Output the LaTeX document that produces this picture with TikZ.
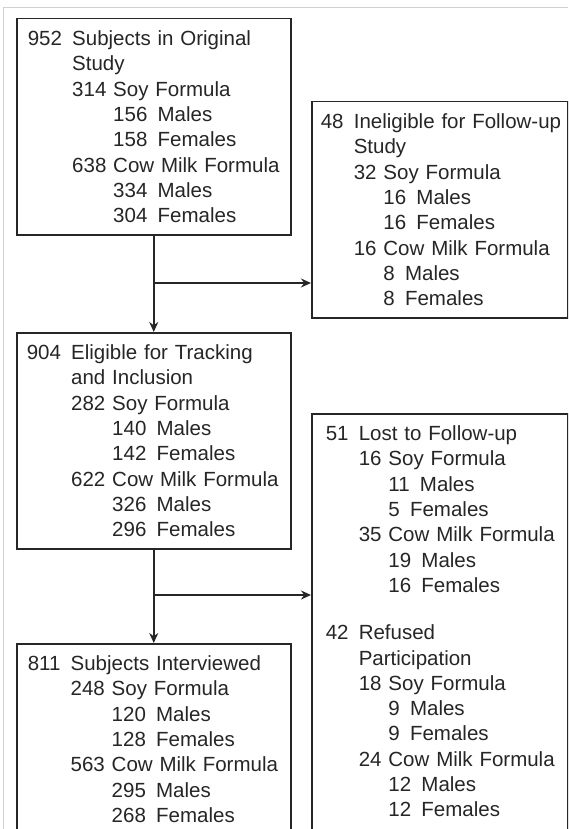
\documentclass[tikz,border=0pt]{standalone}
\usepackage{fontspec}
\setmainfont{Liberation Sans}
\usetikzlibrary{arrows.meta}

% one line of a box: head, continuation, group and sub-group
\newcommand{\headln}[2]{\mbox{#1\enspace#2}}
\newcommand{\contln}[2]{\mbox{\phantom{#1\enspace}#2}}
\newcommand{\grpln}[3]{\mbox{\phantom{#1\enspace}#2 #3}}
\newcommand{\subln}[4]{\mbox{\phantom{#1\enspace#2 }#3\enspace#4}}

\tikzset{
  flowbox/.style={draw=black!85, line width=1.5pt, rectangle, anchor=north west,
    align=left, text=black!85, font=\fontsize{20.5}{25.3}\selectfont, inner ysep=12pt},
  flowarrow/.style={draw=black!85, line width=1.5pt, -{Stealth[length=10pt,width=9pt]}},
}

\begin{document}
\begin{tikzpicture}[x=1pt,y=-1pt]

\useasboundingbox (0,0) rectangle (568,829);
\clip (0,0) rectangle (568,829);
\fill[white] (0,0) rectangle (568,829);
\draw[black!18, line width=1pt] (3,829) -- (3,8) -- (568,8);

\node[flowbox, inner xsep=11pt, text width=252pt, minimum height=216pt] (orig) at (16,18) {%
\headln{952}{Subjects in Original}\\
\contln{952}{Study}\\
\grpln{952}{314}{Soy Formula}\\
\subln{952}{314}{156}{Males}\\
\subln{952}{314}{158}{Females}\\
\grpln{952}{638}{Cow Milk Formula}\\
\subln{952}{638}{334}{Males}\\
\subln{952}{638}{304}{Females}};

\node[flowbox, inner xsep=9pt, text width=238pt, minimum height=216pt] (inel) at (311,101) {%
\headln{48}{Ineligible for Follow-up}\\
\contln{48}{Study}\\
\grpln{48}{32}{Soy Formula}\\
\subln{48}{32}{16}{Males}\\
\subln{48}{32}{16}{Females}\\
\grpln{48}{16}{Cow Milk Formula}\\
\subln{48}{16}{8}{Males}\\
\subln{48}{16}{8}{Females}};

\node[flowbox, inner xsep=10pt, text width=254pt, minimum height=215pt] (elig) at (16,332) {%
\headln{904}{Eligible for Tracking}\\
\contln{904}{and Inclusion}\\
\grpln{904}{282}{Soy Formula}\\
\subln{904}{282}{140}{Males}\\
\subln{904}{282}{142}{Females}\\
\grpln{904}{622}{Cow Milk Formula}\\
\subln{904}{622}{326}{Males}\\
\subln{904}{622}{296}{Females}};

% these two run on below the page
\node[flowbox, inner xsep=14pt, text width=228pt, text depth=400pt] (lost) at (311,413) {%
\headln{51}{Lost to Follow-up}\\
\grpln{51}{16}{Soy Formula}\\
\subln{51}{16}{11}{Males}\\
\subln{51}{16}{5}{Females}\\
\grpln{51}{35}{Cow Milk Formula}\\
\subln{51}{35}{19}{Males}\\
\subln{51}{35}{16}{Females}\\[22pt]
\headln{42}{Refused}\\
\contln{42}{Participation}\\
\grpln{42}{18}{Soy Formula}\\
\subln{42}{18}{9}{Males}\\
\subln{42}{18}{9}{Females}\\
\grpln{42}{24}{Cow Milk Formula}\\
\subln{42}{24}{12}{Males}\\
\subln{42}{24}{12}{Females}};

\node[flowbox, inner xsep=11pt, text width=252pt, text depth=175pt] (intv) at (16,643) {%
\headln{811}{Subjects Interviewed}\\
\grpln{811}{248}{Soy Formula}\\
\subln{811}{248}{120}{Males}\\
\subln{811}{248}{128}{Females}\\
\grpln{811}{563}{Cow Milk Formula}\\
\subln{811}{563}{295}{Males}\\
\subln{811}{563}{268}{Females}};

%%%%%%%%%%%%%%%%%%%%%%%%%%%%%%%%%%%%%%%%%%%%
\coordinate (b1) at (153,283);
\coordinate (b2) at (153,595);

\draw[flowarrow] (orig.south) -- (elig.north);
\draw[flowarrow] (b1) -- (b1 -| inel.west);
\draw[flowarrow] (elig.south) -- (intv.north);
\draw[flowarrow] (b2) -- (b2 -| lost.west);

\end{tikzpicture}
\end{document}
